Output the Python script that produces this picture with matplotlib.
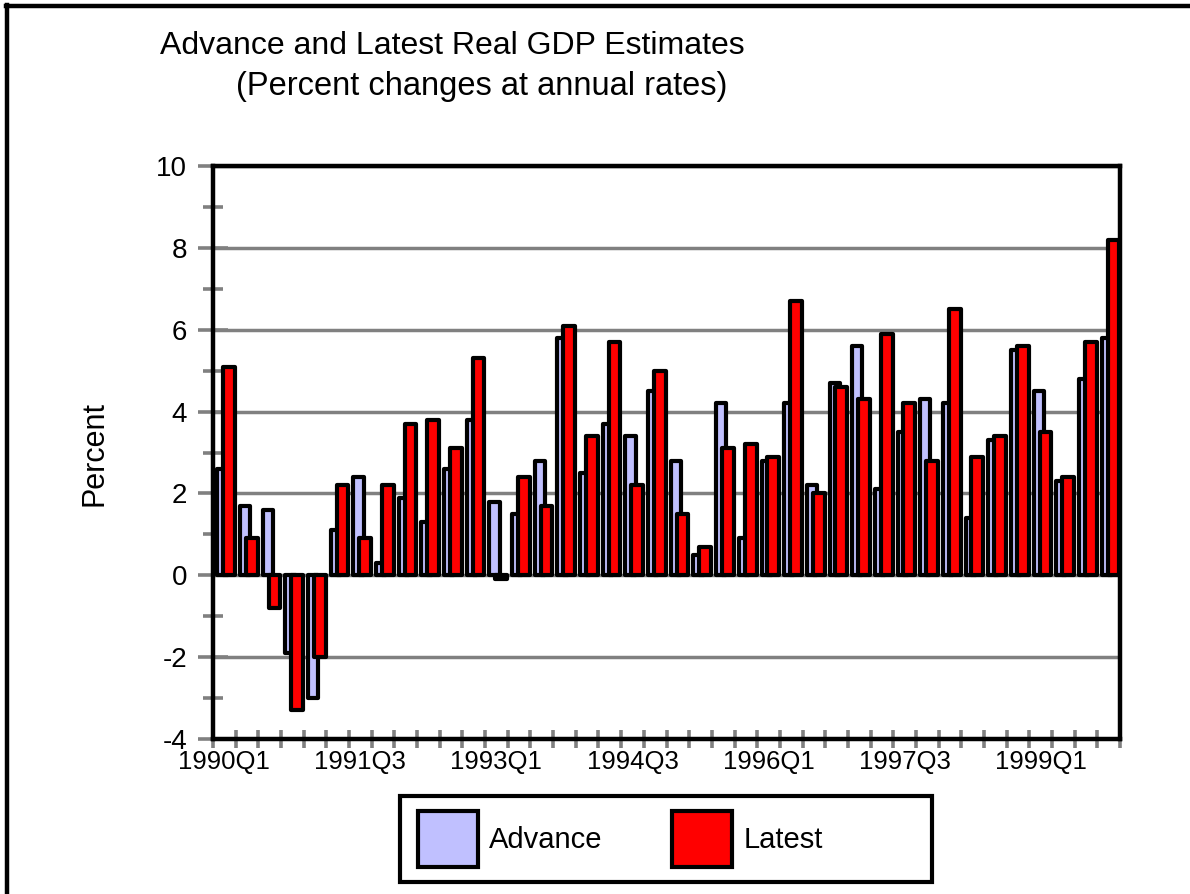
import numpy as np
import matplotlib
matplotlib.use('Agg')
import matplotlib.pyplot as plt
from matplotlib.patches import Patch, Rectangle
from matplotlib.lines import Line2D
from matplotlib.ticker import FixedLocator, MultipleLocator

plt.rcParams['font.family'] = ['Liberation Sans', 'DejaVu Sans']

# --- Data (percent change at annual rates, 1990Q1 - 1999Q4) ---
quarters = [f"{y}Q{q}" for y in range(1990, 2000) for q in range(1, 5)]
advance = [2.6, 1.7, 1.6, -1.9, -3.0, 1.1, 2.4, 0.3, 1.9, 1.3,
           2.6, 3.8, 1.8, 1.5, 2.8, 5.8, 2.5, 3.7, 3.4, 4.5,
           2.8, 0.5, 4.2, 0.9, 2.8, 4.2, 2.2, 4.7, 5.6, 2.1,
           3.5, 4.3, 4.2, 1.4, 3.3, 5.5, 4.5, 2.3, 4.8, 5.8]
latest = [5.1, 0.9, -0.8, -3.3, -2.0, 2.2, 0.9, 2.2, 3.7, 3.8,
          3.1, 5.3, -0.1, 2.4, 1.7, 6.1, 3.4, 5.7, 2.2, 5.0,
          1.5, 0.7, 3.1, 3.2, 2.9, 6.7, 2.0, 4.6, 4.3, 5.9,
          4.2, 2.8, 6.5, 2.9, 3.4, 5.6, 3.5, 2.4, 5.7, 8.2]
label_every = 6

ADV_COLOR = '#C0C0FF'
LAT_COLOR = '#FF0000'
GRAY = '#808080'

W, H = 1190, 894
fig = plt.figure(figsize=(W / 100, H / 100), dpi=100)
ax = fig.add_axes([213 / W, 1 - 739 / H, (1120 - 213) / W, (739 - 166) / H])

x = np.arange(len(quarters))
ax.bar(x + 0.19, advance, width=0.45, align='edge', color=ADV_COLOR,
       edgecolor='black', linewidth=3.0, joinstyle='round', zorder=2)
ax.bar(x + 0.45, latest, width=0.52, align='edge', color=LAT_COLOR,
       edgecolor='black', linewidth=3.0, joinstyle='round', zorder=3)

ax.set_xlim(0, len(quarters))
ax.set_ylim(-4, 10)

# y axis
ax.yaxis.set_major_locator(MultipleLocator(2))
ax.yaxis.set_minor_locator(MultipleLocator(1))
ax.grid(axis='y', which='major', color=GRAY, linewidth=2.5, zorder=1)
ax.set_axisbelow(True)
ax.tick_params(axis='y', which='major', direction='inout', length=21, width=2.6,
               color=GRAY, labelsize=20, pad=8)
ax.tick_params(axis='y', which='minor', direction='inout', length=15, width=2.6,
               color=GRAY)
ax.set_yticklabels([f"{int(v)}" for v in ax.get_yticks()])

# x axis: ticks at quarter boundaries, labels at quarter centers
ax.xaxis.set_major_locator(FixedLocator(np.arange(len(quarters) + 1)))
ax.xaxis.set_minor_locator(FixedLocator(x[::label_every] + 0.5))
ax.set_xticklabels([], minor=False)
ax.set_xticklabels(quarters[::label_every], minor=True)
ax.tick_params(axis='x', which='major', direction='inout', length=13.5, width=2.6,
               color=GRAY)
ax.tick_params(axis='x', which='minor', length=0, labelsize=18.5, pad=8)

for s in ax.spines.values():
    s.set_color('black')
    s.set_linewidth(3.2)
    s.set_zorder(4)

# titles and axis label
fig.text(160 / W, 1 - 54 / H, 'Advance and Latest Real GDP Estimates',
         fontsize=23, ha='left', va='baseline')
fig.text(236 / W, 1 - 95 / H, '(Percent changes at annual rates)',
         fontsize=23.5, ha='left', va='baseline')
fig.text(95 / W, 1 - 453 / H, 'Percent', fontsize=22, rotation=90,
         ha='center', va='center')

# legend
handles = [Patch(facecolor=ADV_COLOR, edgecolor='black', linewidth=3),
           Patch(facecolor=LAT_COLOR, edgecolor='black', linewidth=3)]
fig.legend(handles, ['Advance', 'Latest'], loc='center left',
           bbox_to_anchor=(418 / W, 1 - 839 / H), ncol=2, frameon=False,
           fontsize=21, handlelength=2.05, handleheight=2.6,
           handletextpad=0.38, columnspacing=2.4, borderpad=0, borderaxespad=0)
fig.add_artist(Rectangle((400 / W, 1 - 882 / H), 532 / W, 86 / H,
                         transform=fig.transFigure, fill=False,
                         edgecolor='black', linewidth=3))

# outer frame (only top and left edges visible)
fig.add_artist(Line2D([6 / W, 1], [1 - 6 / H, 1 - 6 / H], color='black',
                      linewidth=3.2, transform=fig.transFigure))
fig.add_artist(Line2D([7 / W, 7 / W], [0, 1 - 5 / H], color='black',
                      linewidth=3.2, transform=fig.transFigure))

fig.savefig('out.png', dpi=100)
